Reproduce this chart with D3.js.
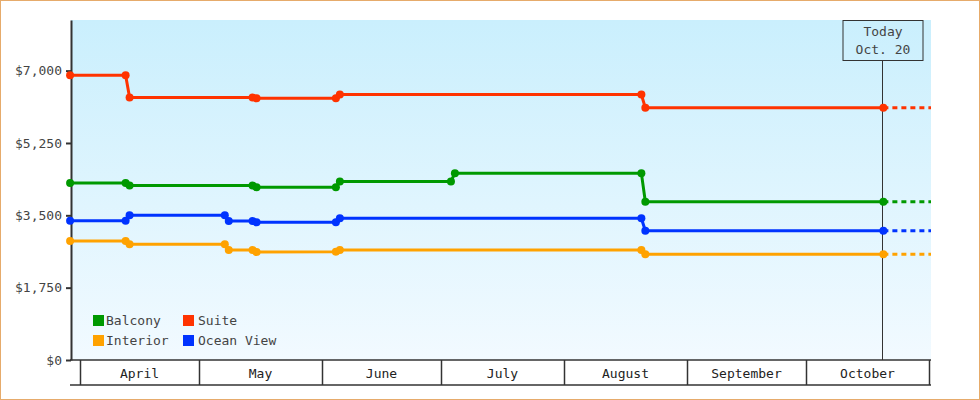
<!DOCTYPE html>
<html>

<head>
    <meta charset="utf-8">
    <title>Cabin prices</title>
    <script src="https://d3js.org/d3.v7.min.js"></script>
</head>

<body>
    <div id="svg-container"></div>
    <script>
        // price history per cabin type: [date, price]
        const balcony = [
            ["2013-03-29", 4280], ["2013-04-12", 4280], ["2013-04-13", 4220], ["2013-05-14", 4220],
            ["2013-05-15", 4180], ["2013-06-04", 4180], ["2013-06-05", 4320], ["2013-07-03", 4320],
            ["2013-07-04", 4520], ["2013-08-20", 4520], ["2013-08-21", 3830], ["2013-10-20", 3830]
        ]
        const suite = [
            ["2013-03-29", 6890], ["2013-04-12", 6890], ["2013-04-13", 6350], ["2013-05-14", 6350],
            ["2013-05-15", 6330], ["2013-06-04", 6330], ["2013-06-05", 6420], ["2013-08-20", 6420],
            ["2013-08-21", 6100], ["2013-10-20", 6100]
        ]
        const interior = [
            ["2013-03-29", 2880], ["2013-04-12", 2880], ["2013-04-13", 2800], ["2013-05-07", 2800],
            ["2013-05-08", 2660], ["2013-05-14", 2660], ["2013-05-15", 2610], ["2013-06-04", 2620],
            ["2013-06-05", 2660], ["2013-08-20", 2660], ["2013-08-21", 2560], ["2013-10-20", 2560]
        ]
        const oceanView = [
            ["2013-03-29", 3370], ["2013-04-12", 3370], ["2013-04-13", 3500], ["2013-05-07", 3500],
            ["2013-05-08", 3360], ["2013-05-14", 3360], ["2013-05-15", 3330], ["2013-06-04", 3330],
            ["2013-06-05", 3430], ["2013-08-20", 3430], ["2013-08-21", 3125], ["2013-10-20", 3125]
        ]

        const categories = ["Balcony", "Suite", "Interior", "Ocean View"]
        const seriesData = [balcony, suite, interior, oceanView]
        const colors = ["#009900", "#ff3300", "#ffa200", "#0033ff"]

        const months = ["April", "May", "June", "July", "August", "September", "October"]
        const yTicks = [0, 1750, 3500, 5250, 7000]
        const today = "2013-10-20"
        const todayLabel = ["Today", "Oct. 20"]

        const w = 980, h = 400
        const plot = { left: 71, right: 931, top: 20, bottom: 360 }
        const font = "'DejaVu Sans Mono', monospace"
        const parse = d3.utcParse("%Y-%m-%d")
        const noon = d => d3.utcHour.offset(parse(d), 12)

        const svg = d3.select("#svg-container").append("svg").attr("width", w).attr("height", h)
            .style("display", "block")

        const xScale = d3.scaleUtc().domain([parse("2013-04-01"), parse("2013-11-01")]).range([80, 929])
        const yScale = d3.scaleLinear().domain([0, 8225]).range([plot.bottom, plot.top])

        // background gradient
        const grad = svg.append("defs").append("linearGradient").attr("id", "bg")
            .attr("x1", 0).attr("y1", 0).attr("x2", 0).attr("y2", 1)
        grad.append("stop").attr("offset", "0%").attr("stop-color", "#caeffd")
        grad.append("stop").attr("offset", "100%").attr("stop-color", "#f2faff")

        svg.append("rect").attr("x", 0).attr("y", 0).attr("width", w).attr("height", h)
            .style("fill", "white").style("stroke", "#e6ab6b").style("stroke-width", 2)

        svg.append("rect")
            .attr("x", plot.left).attr("y", plot.top)
            .attr("width", plot.right - plot.left).attr("height", plot.bottom - plot.top)
            .style("fill", "url(#bg)")

        // month bands under the plot
        const monthStarts = months.map((m, i) => d3.utcMonth.offset(parse("2013-04-01"), i))
        const band = svg.append("g")
        band.append("line").attr("x1", plot.left - 1).attr("x2", plot.right)
            .attr("y1", 385).attr("y2", 385).style("stroke", "#333").style("stroke-width", 1.5)
        band.append("line").attr("x1", plot.left - 1).attr("x2", plot.right)
            .attr("y1", plot.bottom).attr("y2", plot.bottom).style("stroke", "#333").style("stroke-width", 1.5)
        band.selectAll(".sep")
            .data(monthStarts.concat([d3.utcMonth.offset(monthStarts[monthStarts.length - 1], 1)]))
            .enter().append("line").attr("class", "sep")
            .attr("x1", d => Math.round(xScale(d)) + 0.5).attr("x2", d => Math.round(xScale(d)) + 0.5)
            .attr("y1", plot.bottom).attr("y2", 385)
            .style("stroke", "#333").style("stroke-width", 1.5)
        band.selectAll(".mlabel")
            .data(months)
            .enter().append("text").attr("class", "mlabel")
            .attr("x", (d, i) => (xScale(monthStarts[i]) + xScale(d3.utcMonth.offset(monthStarts[i], 1))) / 2)
            .attr("y", 378)
            .attr("text-anchor", "middle")
            .style("font-family", font).style("font-size", "13px").style("fill", "#222")
            .text(d => d)

        // y axis
        const yAxis = d3.axisLeft(yScale).tickValues(yTicks).tickFormat(d3.format("$,"))
            .tickSize(5).tickSizeOuter(0).tickPadding(4)
        const yg = svg.append("g").attr("transform", "translate(" + plot.left + ",0)").call(yAxis)
        yg.select(".domain").style("stroke", "#333").style("stroke-width", 2)
        yg.selectAll(".tick line").style("stroke", "#333").style("stroke-width", 2)
        yg.selectAll(".tick text").style("font-family", font).style("font-size", "13px").style("fill", "#444")

        // today marker
        const tx = Math.round(xScale(noon(today))) - 0.5
        svg.append("line").attr("x1", tx).attr("x2", tx).attr("y1", 61).attr("y2", plot.bottom)
            .style("stroke", "#333").style("stroke-width", 1)
        svg.append("rect").attr("x", tx - 39.5).attr("y", 20.5).attr("width", 80).attr("height", 40)
            .style("fill", "none").style("stroke", "#333").style("stroke-width", 1)
        svg.selectAll(".today")
            .data(todayLabel)
            .enter().append("text").attr("class", "today")
            .attr("x", tx + 0.5).attr("y", (d, i) => 36 + i * 18)
            .attr("text-anchor", "middle")
            .style("font-family", font).style("font-size", "13px").style("fill", "#444")
            .text(d => d)

        // series lines, projections and markers
        const line = d3.line().x(d => xScale(noon(d[0]))).y(d => yScale(d[1]))

        seriesData.forEach((series, i) => {
            const last = series[series.length - 1]
            svg.append("line")
                .attr("x1", xScale(noon(last[0]))).attr("x2", plot.right)
                .attr("y1", yScale(last[1])).attr("y2", yScale(last[1]))
                .style("stroke", colors[i]).style("stroke-width", 3)
                .style("stroke-dasharray", "5,4")

            svg.append("path")
                .datum(series)
                .attr("d", line)
                .style("fill", "none")
                .style("stroke", colors[i])
                .style("stroke-width", 3)

            svg.selectAll(".dot" + i)
                .data(series)
                .enter()
                .append("circle")
                .attr("class", "dot" + i)
                .attr("cx", d => xScale(noon(d[0])))
                .attr("cy", d => yScale(d[1]))
                .attr("r", 4)
                .style("fill", colors[i])
        })

        // legend
        const legend = svg.append("g")
        legend.selectAll("rect")
            .data(categories)
            .enter().append("rect")
            .attr("x", (d, i) => 93 + (i % 2) * 90)
            .attr("y", (d, i) => 315 + Math.floor(i / 2) * 20)
            .attr("width", 11).attr("height", 11)
            .style("fill", (d, i) => colors[i])
        legend.selectAll("text")
            .data(categories)
            .enter().append("text")
            .attr("x", (d, i) => 106 + (i % 2) * 92)
            .attr("y", (d, i) => 325 + Math.floor(i / 2) * 20)
            .style("font-family", font).style("font-size", "13px").style("fill", "#444")
            .text(d => d)
    </script>
</body>
<style>
    body {
        margin: 0;
    }
</style>

</html>
